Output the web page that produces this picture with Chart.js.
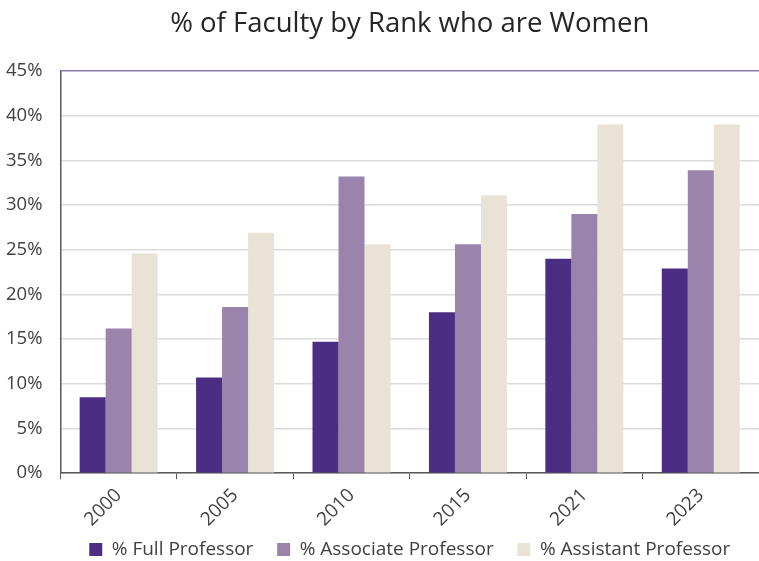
<!DOCTYPE html>
<html>
<head>
<meta charset="utf-8">
<script src="https://cdn.jsdelivr.net/npm/chart.js@4"></script>
<style>
  html, body { margin: 0; padding: 0; background: #fff; }
  #wrap { width: 759px; height: 561px; }
</style>
</head>
<body>
<div id="wrap"><canvas id="chart"></canvas></div>
<script>
// chart data
const years = ["2000", "2005", "2010", "2015", "2021", "2023"];
const fullProf = [8.5, 10.7, 14.7, 18.0, 24.0, 22.9];
const assocProf = [16.2, 18.6, 33.2, 25.6, 29.0, 33.9];
const asstProf = [24.6, 26.9, 25.6, 31.1, 39.0, 39.0];
const yTicks = [0, 5, 10, 15, 20, 25, 30, 35, 40, 45];

const font = "'Open Sans', 'Noto Sans', sans-serif";
// extra gap after legend items (the legend has no separate item spacing)
const gap = "\u00A0\u00A0\u00A0\u00A0";

const ctx = document.getElementById("chart").getContext("2d");
const chart = new Chart(ctx, {
  type: "bar",
  data: {
    labels: years,
    datasets: [
      { label: "% Full Professor" + gap, data: fullProf, backgroundColor: "#4b2e83" },
      { label: "% Associate Professor" + gap, data: assocProf, backgroundColor: "#9a84ab" },
      { label: "% Assistant Professor", data: asstProf, backgroundColor: "#e8e3d4" },
    ],
  },
  options: {
    responsive: true,
    maintainAspectRatio: false,
    animation: false,
    // negative left: the rotated first x label reserves more room than it needs
    layout: { padding: { left: -12, right: 0, top: 8, bottom: -8 } },
    categoryPercentage: 0.67,
    barPercentage: 1.0,
    plugins: {
      title: {
        display: true,
        fullSize: false,
        text: "% of Faculty by Rank who are Women",
        color: "#262626",
        font: { family: font, size: 27.5, weight: "normal" },
        padding: { top: 0, bottom: 30 },
      },
      legend: {
        position: "bottom",
        fullSize: false,
        labels: {
          color: "#404040",
          font: { family: font, size: 19 },
          boxWidth: 13,
          boxHeight: 13,
          padding: 4,
        },
      },
      tooltip: { enabled: false },
    },
    scales: {
      x: {
        grid: {
          display: true,
          offset: true,
          drawOnChartArea: false,
          drawTicks: true,
          tickLength: 6,
          color: "#595959",
        },
        border: { display: true, color: "#595959", width: 1.5 },
        ticks: {
          color: "#404040",
          font: { family: font, size: 19 },
          maxRotation: 45,
          minRotation: 45,
          padding: 5,
        },
      },
      y: {
        min: 0,
        max: 45,
        afterBuildTicks: (axis) => {
          axis.ticks = yTicks.map((v) => ({ value: v }));
        },
        grid: {
          drawTicks: false,
          color: (c) => (c.tick && c.tick.value === 45 ? "#8a7ab0" : "#dcdcdc"),
          lineWidth: 1.5,
        },
        border: { display: true, color: "#595959", width: 1.5 },
        ticks: {
          color: "#404040",
          font: { family: font, size: 18.5 },
          padding: 18,
          callback: (v) => v + "%",
        },
      },
    },
  },
});
</script>
</body>
</html>
